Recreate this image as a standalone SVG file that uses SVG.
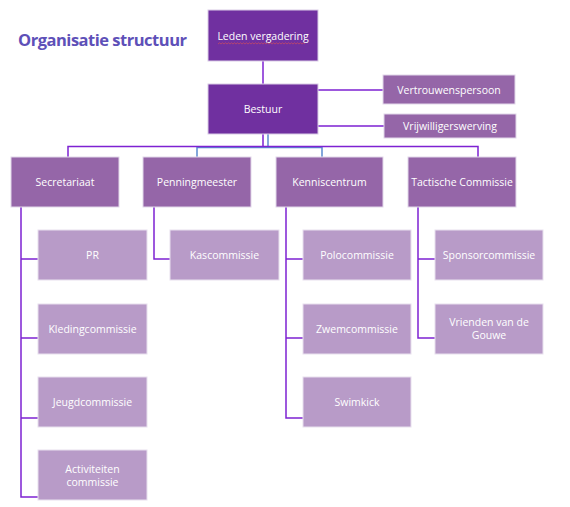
<svg xmlns="http://www.w3.org/2000/svg" width="570" height="507" viewBox="0 0 570 507">
<style>
.bg{fill:#ffffff}
.title{font-family:"Open Sans","Liberation Sans",sans-serif;font-weight:bold;font-size:16.5px;fill:#5E50B8}
.n1 rect{fill:#7030A0;stroke:#D9CCE6;stroke-width:1}
.n2 rect{fill:#9566A8;stroke:#E2D8EA;stroke-width:1}
.n3 rect{fill:#B89BC8;stroke:#E8E0EE;stroke-width:1}
text.t{font-family:"Open Sans","Liberation Sans",sans-serif;font-size:10.5px;fill:#ffffff;text-anchor:middle}
.c{fill:none;stroke:#7E22D2;stroke-width:1.5}
.cb{fill:none;stroke:#5B8BD0;stroke-width:1.5}
</style>
<rect class="bg" x="0" y="0" width="570" height="507"/>
<text class="title" x="18" y="46" textLength="169">Organisatie structuur</text>

<g id="connectors">
  <path class="cb" d="M268,134 V147.5 H322 V157 M268,147.5 H197 V157"/>
  <path class="c" d="M263,61 V84"/>
  <path class="c" d="M318,90 H383 M318,126 H384"/>
  <path class="c" d="M263,134 V146.5 M68,157 V146.5 H478 V157"/>
  <path class="c" d="M21,207 V497 H38 M21,259 H38 M21,338 H38 M21,418 H38"/>
  <path class="c" d="M154,207 V259 H170"/>
  <path class="c" d="M286,207 V418 H303 M286,259 H303 M286,338 H303"/>
  <path class="c" d="M418,207 V338 H435 M418,259 H435"/>
</g>

<g id="leden" class="n1"><rect x="208" y="10" width="110" height="51"/><text class="t" x="263" y="40">Leden vergadering</text>
<path d="M218,44 l1.5,-1.2 l1.5,1.2 l1.5,-1.2 l1.5,1.2 l1.5,-1.2 l1.5,1.2 l1.5,-1.2 l1.5,1.2 l1.5,-1.2 l1.5,1.2 l1.5,-1.2 l1.5,1.2 l1.5,-1.2 l1.5,1.2 l1.5,-1.2 l1.5,1.2 l1.5,-1.2 l1.5,1.2 l1.5,-1.2 l1.5,1.2 l1.5,-1.2 l1.5,1.2 l1.5,-1.2 l1.5,1.2 l1.5,-1.2 l1.5,1.2 l1.5,-1.2 l1.5,1.2 l1.5,-1.2 l1.5,1.2 l1.5,-1.2 l1.5,1.2 l1.5,-1.2 l1.5,1.2 l1.5,-1.2 l1.5,1.2 l1.5,-1.2 l1.5,1.2 l1.5,-1.2 l1.5,1.2 l1.5,-1.2 l1.5,1.2 l1.5,-1.2 l1.5,1.2 l1.5,-1.2 l1.5,1.2 l1.5,-1.2 l1.5,1.2 l1.5,-1.2 l1.5,1.2 l1.5,-1.2 l1.5,1.2 l1.5,-1.2 l1.5,1.2 l1.5,-1.2 l1.5,1.2 l1.5,-1.2 l1.5,1.2" fill="none" stroke="#E05050" stroke-width="0.6"/></g>
<g id="bestuur" class="n1"><rect x="208" y="84" width="110" height="50"/><text class="t" x="263" y="113">Bestuur</text></g>
<g id="vertrouwenspersoon" class="n2"><rect x="383" y="75" width="132" height="29"/><text class="t" x="449" y="94">Vertrouwenspersoon</text></g>
<g id="vrijwilligerswerving" class="n2"><rect x="384" y="114" width="132" height="24"/><text class="t" x="450" y="130">Vrijwilligerswerving</text></g>

<g id="secretariaat" class="n2"><rect x="11" y="157" width="108" height="50"/><text class="t" x="65" y="186">Secretariaat</text></g>
<g id="penningmeester" class="n2"><rect x="143" y="157" width="108" height="50"/><text class="t" x="197" y="186">Penningmeester</text></g>
<g id="kenniscentrum" class="n2"><rect x="276" y="157" width="107" height="50"/><text class="t" x="329.5" y="186">Kenniscentrum</text></g>
<g id="tactische" class="n2"><rect x="408" y="157" width="108" height="50"/><text class="t" x="462" y="186">Tactische Commissie</text></g>

<g id="pr" class="n3"><rect x="38" y="230" width="109" height="50"/><text class="t" x="92.5" y="259">PR</text></g>
<g id="kleding" class="n3"><rect x="38" y="304" width="109" height="50"/><text class="t" x="92.5" y="333">Kledingcommissie</text></g>
<g id="jeugd" class="n3"><rect x="38" y="377" width="109" height="50"/><text class="t" x="92.5" y="406">Jeugdcommissie</text></g>
<g id="activiteiten" class="n3"><rect x="38" y="450" width="109" height="50"/><text class="t" x="92.5" y="473">Activiteiten</text><text class="t" x="92.5" y="486">commissie</text></g>

<g id="kascommissie" class="n3"><rect x="170" y="230" width="109" height="50"/><text class="t" x="224.5" y="259">Kascommissie</text></g>

<g id="polo" class="n3"><rect x="303" y="230" width="108" height="50"/><text class="t" x="357" y="259">Polocommissie</text></g>
<g id="zwem" class="n3"><rect x="303" y="304" width="108" height="50"/><text class="t" x="357" y="333">Zwemcommissie</text></g>
<g id="swimkick" class="n3"><rect x="303" y="377" width="108" height="50"/><text class="t" x="357" y="406">Swimkick</text></g>

<g id="sponsor" class="n3"><rect x="435" y="230" width="108" height="50"/><text class="t" x="489" y="259">Sponsorcommissie</text></g>
<g id="vrienden" class="n3"><rect x="435" y="304" width="108" height="50"/><text class="t" x="489" y="326">Vrienden van de</text><text class="t" x="489" y="339">Gouwe</text></g>
</svg>
